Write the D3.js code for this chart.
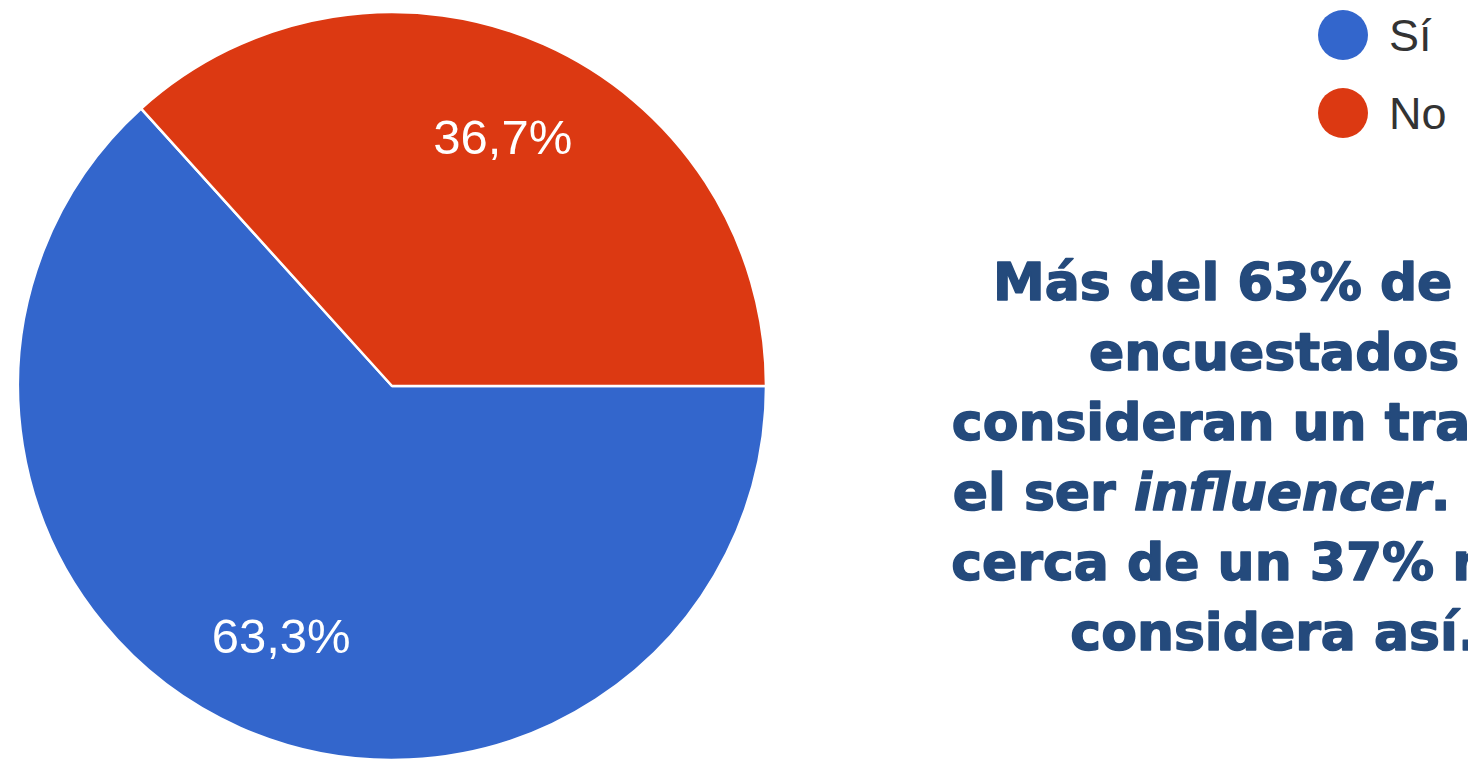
<!DOCTYPE html>
<meta charset="utf-8">
<style>
  body { margin: 0; background: #fff; overflow: hidden; }
  .slice-label { font-family: Arial, "Liberation Sans", sans-serif; fill: #fff; }
  .legend text { font-family: Arial, "Liberation Sans", sans-serif; fill: #333; }
  .note { font-family: "DejaVu Sans", sans-serif; font-weight: 700; fill: #244a7c; stroke: #244a7c; stroke-width: 1.5; stroke-linejoin: round; }
</style>
<body>
<script src="https://cdnjs.cloudflare.com/ajax/libs/d3/7.8.5/d3.min.js"></script>
<script>
// answers and shares (percent)
var categories = ["Sí", "No"];
var values = [63.3, 36.7];
var labels = ["63,3%", "36,7%"];
var colors = ["#3366cc", "#dc3912"];

// note lines (right side, partly cut off by the frame)
var noteLines = [
  ["Más del 63% de los"],
  ["encuestados"],
  ["consideran un trabajo"],
  ["el ser ", "influencer", ". Sólo"],
  ["cerca de un 37% no lo"],
  ["considera así."]
];

var width = 1468, height = 761;

var svg = d3.select("body").append("svg")
    .attr("width", width)
    .attr("height", height);

var cx = 392, cy = 386, radius = 374;

var pie = d3.pie()
    .sort(null)
    .startAngle(Math.PI / 2)
    .endAngle(Math.PI / 2 + 2 * Math.PI)
    .value(function(d) { return d; });

var arc = d3.arc().innerRadius(0).outerRadius(radius);
var labelArc = d3.arc().innerRadius(radius * 0.73).outerRadius(radius * 0.73);

var g = svg.append("g").attr("transform", "translate(" + cx + "," + cy + ")");

var arcs = pie(values);

g.selectAll("path")
  .data(arcs)
  .enter()
  .append("path")
    .attr("d", arc)
    .style("fill", function(d, i) { return colors[i]; })
    .style("stroke", "#fff")
    .style("stroke-width", 2.5)
    .style("stroke-linejoin", "round");

g.selectAll("text")
  .data(arcs)
  .enter()
  .append("text")
    .attr("class", "slice-label")
    .attr("transform", function(d) { return "translate(" + labelArc.centroid(d) + ")"; })
    .attr("text-anchor", "middle")
    .attr("dy", "0.36em")
    .style("font-size", "49px")
    .text(function(d, i) { return labels[i]; });

// legend
var legend = svg.append("g").attr("class", "legend");
var item = legend.selectAll("g")
  .data(categories)
  .enter()
  .append("g")
    .attr("transform", function(d, i) { return "translate(1343," + (35 + i * 78) + ")"; });

item.append("circle")
    .attr("r", 25)
    .style("fill", function(d, i) { return colors[i]; });

item.append("text")
    .attr("x", 46)
    .attr("dy", "0.36em")
    .style("font-size", "45px")
    .text(function(d) { return d; });

// note text
var note = svg.append("text")
    .attr("class", "note")
    .attr("text-anchor", "middle")
    .style("font-size", "52px");

noteLines.forEach(function(parts, i) {
  var line = note.append("tspan")
      .attr("x", 1274)
      .attr("y", 300 + i * 70);
  parts.forEach(function(p) {
    line.append("tspan")
        .style("font-style", p === "influencer" ? "italic" : "normal")
        .text(p);
  });
});
</script>
</body>
